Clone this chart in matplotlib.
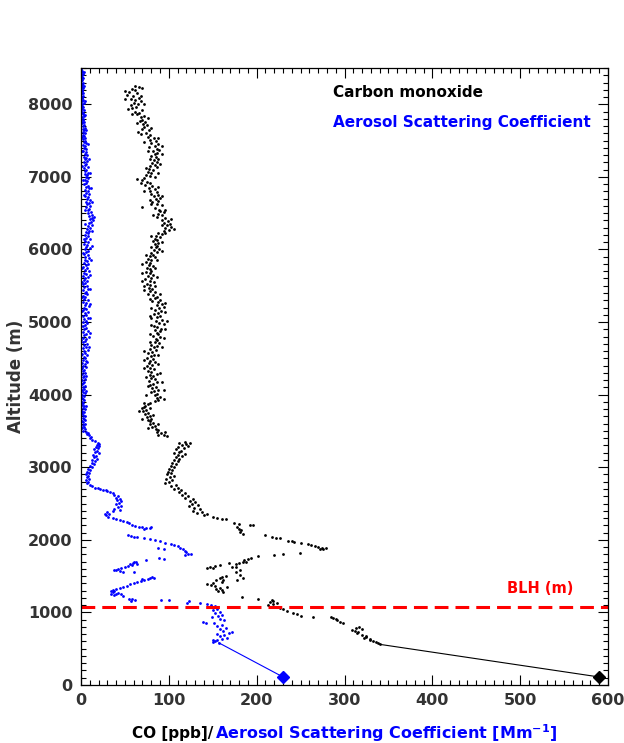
'''
Vertical profile of CO and aerosol scattering coefficient
'''
import matplotlib
matplotlib.use('Agg')
import matplotlib.pyplot as plt
from matplotlib.ticker import MultipleLocator

# ---- carbon monoxide profile (altitude m, CO ppb) ----
co_free_trop = [
    (8255, 62), (8240, 66), (8215, 58), (8190, 61), (8170, 55), (8150, 64), (8130, 52), (8110, 59),
    (8090, 66), (8075, 57), (8060, 62), (8040, 68), (8020, 60), (8005, 65), (7985, 57), (7960, 63),
    (7940, 53), (7925, 70), (7900, 61), (7880, 66), (7860, 64), (7840, 72), (7820, 68), (7790, 70),
    (7770, 67), (7750, 73), (7730, 71), (7710, 75), (7690, 72), (7665, 69), (7640, 77), (7620, 65),
    (7600, 74), (7580, 79), (7555, 76), (7530, 83), (7510, 78), (7490, 85), (7470, 80), (7450, 88),
    (7430, 84), (7410, 77), (7390, 86), (7370, 89), (7350, 82), (7330, 87), (7310, 84), (7290, 80),
    (7270, 85), (7250, 88), (7230, 83), (7210, 86), (7190, 81), (7170, 84), (7150, 79), (7130, 86),
    (7110, 77), (7090, 82), (7070, 76), (7050, 80), (7030, 74), (7010, 78), (6990, 72), (6970, 64),
    (6950, 70), (6930, 75), (6910, 79), (6890, 73), (6870, 81), (6850, 77), (6830, 84), (6810, 78),
    (6790, 86), (6770, 80), (6750, 88), (6730, 83), (6710, 90), (6690, 85), (6670, 88), (6650, 81),
    (6630, 87), (6610, 92), (6590, 69), (6570, 84), (6550, 89), (6530, 90), (6510, 94), (6490, 88),
    (6470, 92), (6450, 86), (6430, 96), (6410, 92), (6390, 99), (6370, 95), (6350, 101), (6330, 98),
    (6310, 103), (6290, 96), (6270, 100), (6250, 94), (6230, 88), (6210, 92), (6190, 85), (6170, 90),
    (6150, 84), (6130, 86), (6110, 82), (6090, 88), (6070, 84), (6050, 87), (6030, 85), (6010, 89),
    (5990, 83), (5970, 86), (5950, 80), (5930, 82), (5910, 78), (5890, 84), (5870, 76), (5850, 80),
    (5830, 74), (5810, 79), (5790, 77), (5770, 82), (5750, 75), (5730, 78), (5710, 80), (5690, 74),
    (5670, 79), (5650, 82), (5630, 76), (5610, 80), (5590, 73), (5570, 78), (5550, 83), (5530, 75),
    (5510, 79), (5490, 72), (5470, 77), (5450, 81), (5430, 78), (5410, 84), (5390, 76), (5370, 82),
    (5350, 86), (5330, 84), (5310, 90), (5290, 81), (5270, 88), (5250, 92), (5230, 86), (5210, 94),
    (5190, 89), (5170, 84), (5150, 91), (5130, 88), (5110, 83), (5090, 90), (5070, 86), (5050, 80),
    (5030, 92), (5010, 85), (4990, 89), (4970, 94), (4950, 83), (4930, 87), (4910, 91), (4890, 84),
    (4870, 90), (4850, 86), (4830, 88), (4810, 82), (4790, 90), (4770, 85), (4750, 87), (4730, 84),
    (4710, 89), (4690, 80), (4670, 86), (4650, 83), (4630, 78), (4610, 85), (4590, 81), (4570, 76),
    (4550, 83), (4530, 80), (4510, 75), (4490, 82), (4470, 78), (4450, 84), (4430, 77), (4410, 81),
    (4390, 75), (4370, 79), (4350, 83), (4330, 76), (4310, 80), (4290, 86), (4270, 78), (4250, 82),
    (4230, 80), (4210, 84), (4190, 77), (4170, 86), (4150, 82), (4130, 79), (4110, 85), (4090, 81),
    (4070, 88), (4050, 83), (4030, 80), (4010, 86), (3990, 84), (3970, 90), (3950, 87), (3930, 88),
    (3910, 84), (3890, 79), (3870, 76), (3850, 73), (3830, 72), (3810, 70), (3790, 74), (3770, 71),
    (3750, 76), (3730, 73), (3710, 78), (3690, 75), (3670, 80), (3650, 76), (3630, 78), (3610, 82),
    (3590, 79), (3570, 84), (3550, 81), (3530, 85), (3510, 88), (3490, 86), (3470, 91), (3450, 94),
    (3430, 98),
]
# scattered points either side of the main free-troposphere band
co_free_trop_spread = [
    (8230, 70), (8180, 50), (8120, 68), (8070, 50), (8010, 72), (7950, 58), (7870, 58), (7810, 76),
    (7740, 64), (7680, 80), (7590, 68), (7540, 88), (7480, 72), (7420, 92), (7360, 76), (7320, 92),
    (7240, 78), (7180, 90), (7120, 74), (7060, 88), (7000, 84), (6920, 68), (6860, 88), (6800, 72),
    (6740, 92), (6680, 78), (6620, 80), (6540, 96), (6480, 82), (6420, 102), (6340, 92), (6280, 106),
    (6220, 96), (6180, 80), (6100, 92), (6040, 80), (5980, 92), (5920, 74), (5860, 86), (5800, 70),
    (5740, 84), (5680, 70), (5620, 86), (5560, 70), (5500, 84), (5440, 72), (5380, 90), (5320, 78),
    (5260, 96), (5200, 80), (5140, 96), (5080, 78), (5020, 98), (4960, 80), (4900, 96), (4840, 78),
    (4780, 94), (4720, 78), (4660, 92), (4600, 72), (4540, 88), (4480, 72), (4420, 88), (4360, 72),
    (4300, 90), (4240, 74), (4180, 92), (4120, 76), (4060, 94), (4000, 74), (3940, 94), (3880, 72),
    (3820, 78), (3780, 66), (3720, 82), (3660, 70), (3600, 88), (3540, 76), (3480, 96), (3440, 88),
]
co_lower_trop = [
    (3350, 118), (3340, 124), (3330, 112), (3320, 120), (3305, 115), (3290, 122), (3275, 110),
    (3260, 117), (3245, 108), (3230, 114), (3215, 112), (3200, 106), (3185, 118), (3170, 110),
    (3155, 115), (3140, 108), (3120, 112), (3100, 106), (3080, 110), (3060, 104), (3040, 108),
    (3020, 102), (3000, 106), (2980, 100), (2960, 104), (2940, 99), (2920, 103), (2900, 98),
    (2880, 106), (2860, 101), (2840, 97), (2820, 104), (2800, 100), (2780, 96), (2760, 108),
    (2740, 103), (2720, 110), (2700, 106), (2680, 114), (2660, 112), (2640, 118), (2620, 115),
    (2600, 122), (2580, 118), (2560, 128), (2540, 124), (2520, 130), (2500, 126), (2480, 133),
    (2460, 123), (2440, 129), (2420, 136), (2400, 128), (2380, 138), (2365, 132), (2350, 144),
    (2335, 140), (2320, 150), (2305, 155), (2290, 160), (2280, 165), (2230, 174), (2220, 180),
    (2210, 192), (2200, 196), (2170, 178), (2150, 180), (2130, 182), (2110, 181), (2080, 184),
]
co_plume = [
    (2070, 209), (2045, 218), (2030, 222), (2025, 226), (1990, 236), (1985, 240), (1970, 243),
    (1955, 251), (1945, 258), (1930, 262), (1915, 266), (1900, 270), (1885, 274), (1875, 272),
    (1890, 279), (1870, 276), (1820, 249), (1805, 230), (1790, 220), (1780, 201), (1750, 194),
    (1730, 190), (1720, 186), (1700, 184), (1690, 188), (1680, 180), (1660, 177), (1630, 177),
    (1620, 172), (1680, 169), (1655, 158), (1640, 152), (1610, 150), (1605, 144), (1620, 147),
    (1500, 165), (1490, 161), (1470, 158), (1450, 154), (1440, 162), (1420, 160), (1400, 150),
    (1390, 143), (1380, 148), (1360, 152), (1350, 166), (1340, 158), (1320, 154), (1310, 160),
    (1290, 156), (1280, 162), (1475, 184), (1450, 178), (1520, 181), (1560, 176), (1585, 181),
]
co_boundary = [
    (1215, 183), (1185, 201), (1170, 217), (1155, 219), (1140, 215), (1130, 223), (1120, 219),
    (1100, 213), (1080, 220), (1060, 226), (1050, 230), (1020, 235), (990, 241), (975, 246),
    (950, 251), (940, 264), (940, 285), (925, 287), (910, 290), (900, 292), (870, 295), (855, 298),
    (800, 317), (790, 313), (775, 320), (760, 309), (750, 312), (730, 315), (715, 314), (690, 320),
    (670, 324), (660, 325), (645, 322), (630, 329), (620, 329), (610, 333), (595, 336), (585, 338),
    (560, 340),
]
co_surface = (110, 590)

# ---- aerosol scattering coefficient profile (altitude m, Mm-1) ----
aer_free_trop = [
    (8480, 0.5), (8460, 1.5), (8440, 0.8), (8420, 2), (8400, 1), (8380, 0.6), (8360, 1.8),
    (8340, 1.2), (8320, 0.4), (8300, 2.2), (8280, 1), (8260, 1.6), (8240, 0.7), (8220, 2.4),
    (8200, 1.3), (8180, 0.9), (8160, 1.9), (8140, 0.5), (8120, 2.6), (8100, 1.4), (8080, 0.8),
    (8060, 2), (8040, 1.1), (8020, 3), (8000, 1.7), (7980, 0.9), (7960, 2.3), (7940, 1.5),
    (7920, 3.2), (7900, 1), (7880, 2.4), (7860, 1.8), (7840, 3.5), (7820, 1.2), (7800, 2.8),
    (7780, 2), (7760, 3.8), (7740, 1.5), (7720, 3), (7700, 2.2), (7680, 4), (7660, 1.8),
    (7640, 3.3), (7620, 2.5), (7600, 4.5), (7580, 2), (7560, 3.6), (7540, 5), (7520, 2.7),
    (7500, 4.2), (7480, 3), (7460, 5.6), (7440, 2.4), (7420, 4.8), (7400, 3.5), (7380, 6),
    (7360, 2.8), (7340, 5.2), (7320, 4), (7300, 6.5), (7280, 3.2), (7260, 5.5), (7240, 4.3),
    (7220, 7), (7200, 3.6), (7180, 6), (7160, 4.6), (7140, 7.5), (7120, 3.8), (7100, 6.2),
    (7080, 5), (7060, 8), (7040, 4.2), (7020, 6.8), (7000, 5.4), (6980, 8.5), (6960, 4.5),
    (6940, 7.2), (6920, 5.8), (6900, 3.5), (6880, 7.8), (6860, 6), (6840, 9), (6820, 4.8),
    (6800, 7.5), (6780, 6.2), (6760, 9.5), (6740, 5), (6720, 8), (6700, 6.6), (6680, 10),
    (6660, 5.5), (6640, 8.6), (6620, 7), (6600, 10.5), (6580, 6), (6560, 9), (6540, 7.5),
    (6520, 11), (6500, 8.2), (6480, 12), (6460, 9.5), (6440, 13), (6420, 10), (6400, 14),
    (6380, 11.5), (6360, 9), (6340, 12.5), (6320, 8), (6300, 10.5), (6280, 6.5), (6260, 9.2),
    (6240, 5.5), (6220, 8), (6200, 4.5), (6180, 7.5), (6160, 6), (6140, 9.8), (6120, 5),
    (6100, 8.5), (6080, 3.8), (6060, 7), (6040, 5.8), (6020, 10), (6000, 4.5), (5980, 8),
    (5960, 6.2), (5940, 3.5), (5920, 7.5), (5900, 5), (5880, 9), (5860, 4), (5840, 6.8),
    (5820, 3), (5800, 8.2), (5780, 5.5), (5760, 2.5), (5740, 7), (5720, 4.2), (5700, 9.5),
    (5680, 3.5), (5660, 6), (5640, 2.8), (5620, 8), (5600, 5), (5580, 3), (5560, 7.2),
    (5540, 4.5), (5520, 2), (5500, 6.5), (5480, 3.8), (5460, 8.5), (5440, 2.5), (5420, 5.8),
    (5400, 4), (5380, 7), (5360, 2.2), (5340, 5), (5320, 3.5), (5300, 8), (5280, 2.8),
    (5260, 6), (5240, 4.2), (5220, 9), (5200, 3), (5180, 5.5), (5160, 2), (5140, 7.5),
    (5120, 4), (5100, 6.2), (5080, 2.5), (5060, 8.5), (5040, 3.8), (5020, 5.5), (5000, 1.8),
    (4980, 7), (4960, 4.2), (4940, 2.5), (4920, 6), (4900, 3.5), (4880, 8), (4860, 2),
    (4840, 5.2), (4820, 3.8), (4800, 9), (4780, 2.5), (4760, 6), (4740, 4), (4720, 1.8),
    (4700, 7), (4680, 3), (4660, 5.5), (4640, 2.2), (4620, 8), (4600, 3.5), (4580, 5),
    (4560, 1.5), (4540, 6.5), (4520, 3), (4500, 4.5), (4480, 2), (4460, 6), (4440, 1.2),
    (4420, 4), (4400, 2.8), (4380, 5.5), (4360, 1.5), (4340, 3.5), (4320, 2.2), (4300, 5),
    (4280, 1), (4260, 3), (4240, 2), (4220, 4.5), (4200, 1.2), (4180, 3.2), (4160, 2.5),
    (4140, 0.8), (4120, 4), (4100, 1.8), (4080, 3), (4060, 1), (4040, 2.5), (4020, 4.2),
    (4000, 1.5), (3980, 3), (3960, 0.8), (3940, 2.2), (3920, 3.8), (3900, 1.2), (3880, 2.8),
    (3860, 1), (3840, 3.5), (3820, 2), (3800, 4.5), (3780, 1.5), (3760, 3), (3740, 0.8),
    (3720, 2.5), (3700, 4), (3680, 1.8), (3660, 3.2), (3640, 1), (3620, 2.4), (3600, 4.2),
    (3580, 2), (3560, 3.5), (3540, 1.2), (3520, 4.8), (3500, 2.8), (3480, 5.5), (3460, 7),
    (3440, 9), (3420, 11), (3400, 10.5),
]
aer_free_trop_spread = [
    (8450, 3), (8350, 0.2), (8250, 3.5), (8150, 0.3), (8050, 4), (7950, 0.5), (7850, 5),
    (7750, 0.6), (7650, 6), (7550, 1), (7450, 8), (7350, 1), (7250, 9), (7150, 1.5), (7050, 10),
    (6950, 2), (6850, 11), (6750, 3), (6650, 12), (6550, 4), (6450, 15), (6350, 5), (6250, 12),
    (6150, 3), (6050, 12), (5950, 2), (5850, 11), (5750, 1), (5650, 10), (5550, 1), (5450, 10),
    (5350, 0.8), (5250, 10), (5150, 0.8), (5050, 10), (4950, 0.5), (4850, 10), (4750, 0.5),
    (4650, 9), (4550, 0.5), (4450, 7), (4350, 0.3), (4250, 6), (4150, 0.3), (4050, 5.5),
    (3950, 0.3), (3850, 5.5), (3750, 0.2), (3650, 5), (3550, 0.3), (3470, 8),
]
aer_lower_trop = [
    (3380, 12), (3360, 16), (3340, 19), (3320, 20), (3300, 18), (3290, 21), (3275, 17),
    (3260, 19), (3245, 15), (3230, 18), (3210, 16), (3190, 20), (3175, 14), (3160, 17),
    (3140, 15), (3120, 18), (3100, 13), (3080, 16), (3060, 12), (3040, 15), (3020, 10),
    (3000, 12), (2980, 8), (2960, 10), (2940, 7), (2920, 9), (2900, 6), (2880, 8), (2860, 7),
    (2840, 9), (2820, 6), (2800, 8), (2780, 7), (2760, 10), (2740, 13), (2720, 16), (2710, 19),
    (2700, 22), (2690, 25), (2680, 28), (2670, 30), (2660, 33), (2645, 36), (2620, 38),
    (2600, 42), (2580, 40), (2560, 44), (2545, 41), (2530, 46), (2510, 43), (2490, 40),
    (2470, 45), (2450, 42), (2430, 38), (2410, 44), (2395, 36), (2380, 30), (2360, 27),
    (2350, 32), (2340, 29), (2320, 31), (2300, 36), (2285, 40), (2270, 44), (2255, 48),
    (2240, 52), (2225, 55), (2210, 58), (2195, 61), (2180, 66), (2170, 70), (2165, 74),
    (2160, 78), (2175, 80), (2150, 72),
]
aer_plume = [
    (2060, 53), (2050, 57), (2045, 60), (2035, 64), (2030, 72), (2010, 78), (1995, 84),
    (1980, 90), (1960, 96), (1945, 102), (1930, 106), (1910, 110), (1890, 113), (1870, 116),
    (1850, 118), (1830, 120), (1810, 122), (1790, 118), (1800, 125), (1885, 88), (1880, 95),
    (1750, 89), (1740, 95), (1725, 74), (1700, 63), (1690, 60), (1680, 59), (1670, 56),
    (1660, 64), (1650, 58), (1640, 54), (1620, 50), (1610, 46), (1600, 42), (1590, 38),
    (1580, 40), (1570, 44), (1550, 60), (1560, 48), (1310, 36), (1325, 40), (1340, 44),
    (1355, 48), (1370, 52), (1385, 56), (1400, 60), (1415, 64), (1430, 68), (1445, 72),
    (1460, 76), (1475, 79), (1490, 81), (1480, 83), (1465, 70), (1300, 34), (1290, 38),
    (1280, 36), (1270, 42), (1260, 40), (1250, 45), (1240, 38), (1250, 34), (1230, 48),
    (1190, 55), (1180, 58), (1170, 61), (1160, 57), (1165, 91), (1165, 100), (1150, 123),
]
aer_boundary = [
    (1126, 121), (1130, 135), (1120, 144), (1100, 148), (1085, 152), (1070, 146), (1050, 155),
    (1030, 150), (1010, 158), (990, 153), (970, 161), (950, 156), (930, 149), (910, 158),
    (890, 163), (870, 139), (860, 142), (850, 151), (830, 160), (810, 155), (790, 165),
    (770, 158), (750, 162), (736, 172), (720, 168), (700, 155), (690, 163), (670, 158),
    (650, 166), (640, 160), (625, 150), (615, 155), (605, 153), (598, 150), (580, 157),
]
aer_surface = (110, 230)

blh = 1080  # boundary layer height, m

CO_COLOR = 'black'
AER_COLOR = '#0000ff'
TICK_COLOR = '#333333'

fig = plt.figure(figsize=(6.24, 7.43), dpi=100)
ax = fig.add_axes([0.1298, 0.0781, 0.8446, 0.8304])

for seg in (co_free_trop, co_free_trop_spread, co_lower_trop, co_plume, co_boundary):
    alt, val = zip(*seg)
    ax.plot(val, alt, 'o', color=CO_COLOR, ms=2.0, mew=0)
for seg in (aer_free_trop, aer_free_trop_spread, aer_lower_trop, aer_plume, aer_boundary):
    alt, val = zip(*seg)
    ax.plot(val, alt, 'o', color=AER_COLOR, ms=2.0, mew=0)

# lines down to the surface measurements
ax.plot([co_boundary[-1][1], co_surface[1]], [co_boundary[-1][0], co_surface[0]],
        color=CO_COLOR, lw=0.8)
ax.plot([co_surface[1]], [co_surface[0]], 'D', color=CO_COLOR, ms=6)
ax.plot([aer_boundary[-1][1], aer_surface[1]], [aer_boundary[-1][0], aer_surface[0]],
        color=AER_COLOR, lw=0.8)
ax.plot([aer_surface[1]], [aer_surface[0]], 'D', color=AER_COLOR, ms=6)

ax.axhline(blh, color='#ff0000', lw=2.2, dashes=(4.5, 2.3))
ax.text(0.808, 0.156, 'BLH (m)', transform=ax.transAxes, color='#ff0000',
        fontsize=10.5, fontweight='bold', va='center')

ax.text(0.478, 0.961, 'Carbon monoxide', transform=ax.transAxes, color=CO_COLOR,
        fontsize=11, fontweight='bold', va='center')
ax.text(0.478, 0.911, 'Aerosol Scattering Coefficient', transform=ax.transAxes,
        color=AER_COLOR, fontsize=11, fontweight='bold', va='center')

ax.set_xlim(0, 600)
ax.set_ylim(0, 8500)
ax.xaxis.set_major_locator(MultipleLocator(100))
ax.xaxis.set_minor_locator(MultipleLocator(10))
ax.yaxis.set_major_locator(MultipleLocator(1000))
ax.yaxis.set_minor_locator(MultipleLocator(100))
ax.tick_params(which='both', direction='in', top=True, right=True,
               labelsize=11.5, labelcolor=TICK_COLOR, width=0.8)
ax.tick_params(which='major', length=7, pad=6)
ax.tick_params(which='minor', length=3.5)
for lab in ax.get_xticklabels() + ax.get_yticklabels():
    lab.set_fontweight('bold')
for sp in ax.spines.values():
    sp.set_linewidth(0.9)

ax.set_ylabel('Altitude (m)', fontsize=12, fontweight='bold', color=TICK_COLOR, labelpad=2)

# two-coloured x label
fig.text(0.342, 0.013, 'CO [ppb]/', ha='right', va='center', fontsize=11,
         fontweight='bold', color='black')
fig.text(0.344, 0.013, r'Aerosol Scattering Coefficient [Mm$^{\mathbf{-1}}$]', ha='left',
         va='center', fontsize=11.5, fontweight='bold', color=AER_COLOR)

plt.savefig('out.png', dpi=100)
